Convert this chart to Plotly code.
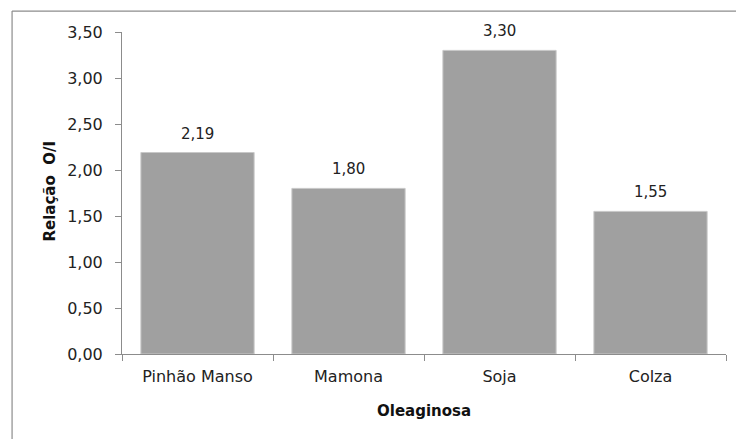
import plotly.graph_objects as go

# Razão O/I (oleico/linoleico) por oleaginosa
oleaginosas = ["Pinhão Manso", "Mamona", "Soja", "Colza"]
relacao_oi = [2.19, 1.80, 3.30, 1.55]
y_ticks = [0, 0.5, 1.0, 1.5, 2.0, 2.5, 3.0, 3.5]

font_family = "Verdana, DejaVu Sans, sans-serif"
text_color = "#222222"
axis_gray = "#8C8C8C"

fig = go.Figure()
fig.add_trace(go.Bar(
    x=oleaginosas,
    y=relacao_oi,
    marker=dict(color="#A0A0A0", line=dict(color="#C8C8C8", width=1)),
    width=0.75,
))

# value labels above each bar, decimal comma
annotations = [
    dict(x=cat, y=val, xref="x", yref="y",
         text=f"{val:.2f}".replace(".", ","),
         showarrow=False, yanchor="bottom", yshift=8,
         font=dict(size=15, color=text_color, family=font_family))
    for cat, val in zip(oleaginosas, relacao_oi)
]
# axis titles
annotations += [
    dict(x=-0.119, y=0.505, xref="paper", yref="paper",
         text="<b>Relação  O/I</b>", textangle=-90, showarrow=False,
         xanchor="center", yanchor="middle",
         font=dict(size=15, color="#111111", family=font_family)),
    dict(x=0.5, y=-0.177, xref="paper", yref="paper",
         text="<b>Oleaginosa</b>", showarrow=False,
         xanchor="center", yanchor="middle",
         font=dict(size=15, color="#111111", family=font_family)),
]

fig.update_layout(
    width=736,
    height=439,
    margin=dict(l=122, r=10, t=32, b=85),
    paper_bgcolor="white",
    plot_bgcolor="white",
    separators=",.",
    showlegend=False,
    font=dict(family=font_family, size=15, color=text_color),
    xaxis=dict(
        showline=True, linecolor=axis_gray, linewidth=1,
        ticks="outside", ticklen=6, tickcolor=axis_gray,
        tickson="boundaries",
        ticklabelstandoff=8,
        tickfont=dict(size=16, color=text_color),
    ),
    yaxis=dict(
        range=[0, 3.5],
        tickvals=y_ticks,
        tickformat=".2f",
        showline=True, linecolor=axis_gray, linewidth=1,
        ticks="outside", ticklen=6, tickcolor=axis_gray,
        ticklabelstandoff=9,
        showgrid=False, zeroline=False,
        tickfont=dict(size=16, color=text_color),
    ),
    annotations=annotations,
    shapes=[
        # chart frame: top and left edges
        dict(type="line", xref="paper", yref="paper",
             x0=-0.182, x1=1.05, y0=1.065, y1=1.065,
             line=dict(color=axis_gray, width=1.2)),
        dict(type="line", xref="paper", yref="paper",
             x0=-0.182, x1=-0.182, y0=1.065, y1=-0.3,
             line=dict(color=axis_gray, width=1.2)),
    ],
)

fig.write_html("out.html")
